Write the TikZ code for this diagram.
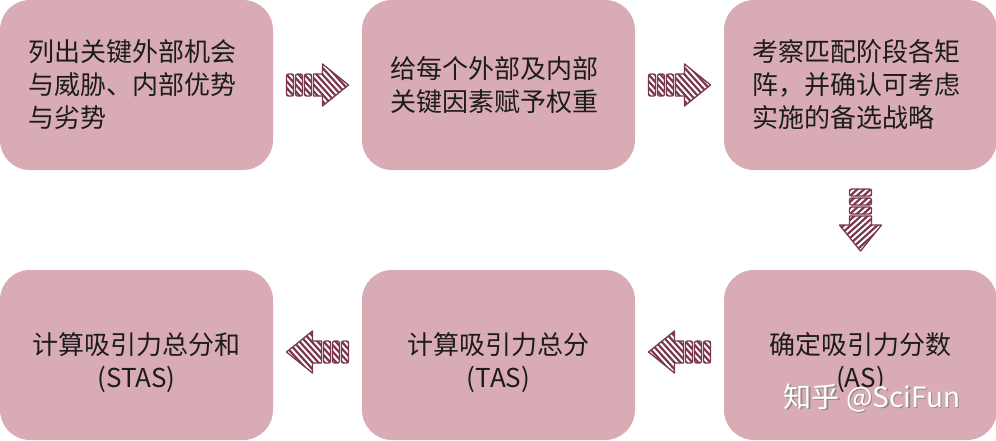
\documentclass[tikz,border=0pt]{standalone}
\usepackage{fontspec}
\setmainfont{Noto Sans CJK SC}
\usetikzlibrary{positioning}
\usetikzlibrary{calc}
\definecolor{boxpink}{RGB}{217,171,181}
\definecolor{arrowred}{RGB}{122,56,76}
\definecolor{textgray}{RGB}{28,28,28}
\tikzset{
   stepbox/.style={fill=boxpink, rounded corners=30pt,
      minimum width=273pt, minimum height=170pt,
      inner sep=0pt, outer sep=0pt, text=textgray,
      font=\fontsize{26}{33}\selectfont},
   toptext/.style={text width=216pt, align=left},
   bottext/.style={align=center, text height=71pt, text depth=7pt},
   stripearrow/.pic={
      % hatched head and three small bars
      \begin{scope}
         \clip (-4,-11) -- (5,-11) -- (5,-21) -- (31,0) -- (5,21) -- (5,11) -- (-4,11) -- cycle
               (-31,-11) rectangle (-24,11)
               (-22,-11) rectangle (-15,11)
               (-13,-11) rectangle (-6,11);
         \foreach \k in {-80,-74,...,40}
            \draw[arrowred, line width=2.2pt] (\k,-25) -- (\k+45,25);
      \end{scope}
      \draw[arrowred, line width=1.3pt, line join=round]
         (-4,-11) -- (5,-11) -- (5,-21) -- (31,0) -- (5,21) -- (5,11) -- (-4,11) -- cycle;
      \foreach \s in {-31,-22,-13}
         \draw[arrowred, line width=1.3pt, rounded corners=2pt] (\s,-11) rectangle (\s+7,11);
   }
}
\begin{document}
\begin{tikzpicture}[x=1pt,y=-1pt]
\useasboundingbox (0,0) rectangle (996,440);
% top row
\node[stepbox, toptext] (list) at (136.5,85) {列出关键外部机会\\与威胁、内部优势\\与劣势};
\node[stepbox, toptext, right=89pt of list] (weight) {给每个外部及内部\\关键因素赋予权重};
\node[stepbox, toptext, right=89pt of weight] (match) {考察匹配阶段各矩\\阵，并确认可考虑\\实施的备选战略};
% bottom row
\node[stepbox, bottext, below=100pt of match] (as) {确定吸引力分数\\(AS)};
\node[stepbox, bottext, left=89pt of as] (tas) {计算吸引力总分\\(TAS)};
\node[stepbox, bottext, left=89pt of tas] (stas) {计算吸引力总分和\\(STAS)};
% arrows
\pic at ($(list.east)!.5!(weight.west)$) {stripearrow};
\pic at ($(weight.east)!.5!(match.west)$) {stripearrow};
\pic[rotate=-90] at ($(match.south)!.5!(as.north)$) {stripearrow};
\pic[rotate=180] at ($(as.west)!.5!(tas.east)+(0,-3)$) {stripearrow};
\pic[rotate=180] at ($(tas.west)!.5!(stas.east)+(0,-3)$) {stripearrow};
% watermark
\node[text=black!45, font=\fontsize{28}{28}\selectfont] (markshadow) at (873.5,399.5) {知乎 @SciFun};
\node[text=white, font=\fontsize{28}{28}\selectfont] (mark) at (872,398) {知乎 @SciFun};
\end{tikzpicture}
\end{document}
